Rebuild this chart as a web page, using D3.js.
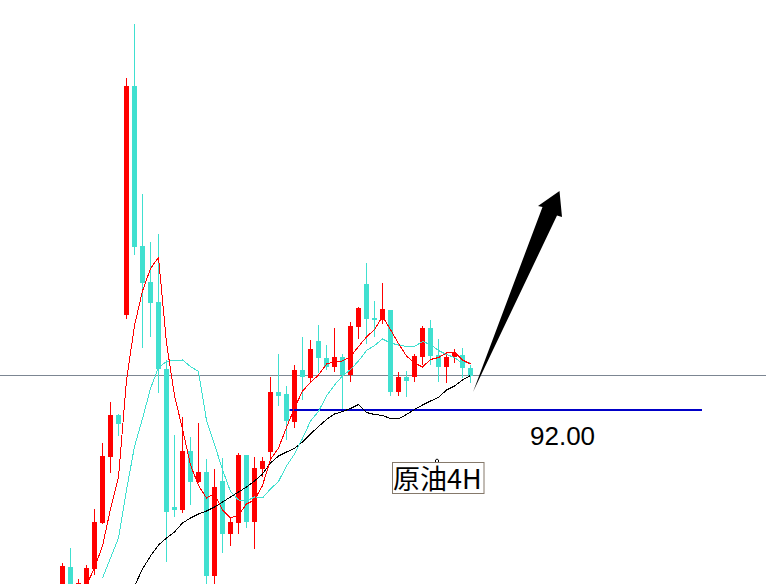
<!DOCTYPE html>
<html>
<head>
    <meta charset="utf-8">
    <title>原油4H</title>
    <style>
        body { margin: 0; background: #fff; }
        svg { display: block; }
    </style>
</head>
<body>

<main></main>

<script src="https://cdn.jsdelivr.net/npm/d3@7/dist/d3.min.js"></script>
<script>

    // K线数据（价格，从图上估读）
    var openP = [88.38, 88.84, 88.42, 88.18, 88.80, 89.72, 91.04, 91.88, 93.88, 98.46,
        95.26, 94.54, 94.14, 92.80, 90.04, 89.98, 91.16, 90.54, 90.74, 88.66,
        90.56, 89.50, 89.72, 91.08, 89.74, 90.80, 91.14, 92.34, 92.30, 91.74,
        92.78, 92.62, 93.36, 93.02, 92.84, 93.04, 92.68, 93.64, 94.50, 93.82,
        93.78, 93.98, 92.34, 92.64, 92.64, 93.04, 93.62, 93.08, 92.84, 93.04,
        93.08, 92.82];
    var highP = [88.92, 89.22, 88.60, 88.88, 90.00, 91.32, 92.14, 91.90, 98.62, 99.70,
        96.30, 95.34, 95.50, 92.98, 91.48, 91.84, 91.44, 91.72, 91.00, 90.80,
        91.02, 89.84, 91.12, 91.08, 91.04, 91.04, 92.64, 93.10, 92.46, 92.88,
        93.44, 93.38, 93.68, 93.28, 93.62, 93.10, 93.74, 94.04, 94.92, 94.16,
        94.52, 93.98, 92.74, 92.76, 93.10, 93.66, 93.78, 93.40, 93.12, 93.20,
        93.22, 92.88];
    var lowP = [88.28, 88.08, 88.34, 88.06, 88.68, 89.70, 90.72, 91.46, 93.80, 95.08,
        93.22, 93.44, 92.32, 88.94, 89.84, 89.92, 90.08, 90.52, 88.46, 88.46,
        89.12, 89.26, 89.50, 89.62, 89.20, 90.64, 91.00, 92.06, 91.38, 91.62,
        92.18, 92.52, 92.72, 92.78, 92.74, 91.94, 92.54, 93.40, 93.30, 93.44,
        93.70, 92.26, 92.26, 92.24, 92.54, 92.88, 92.88, 92.54, 92.52, 92.92,
        92.62, 92.52];
    var closeP = [88.86, 88.18, 88.52, 88.82, 89.74, 91.06, 91.88, 91.70, 98.46, 95.24,
        94.52, 94.12, 92.80, 89.94, 89.98, 91.16, 90.54, 90.74, 88.66, 90.44,
        89.50, 89.74, 91.08, 89.74, 90.82, 90.96, 92.34, 92.26, 91.76, 92.78,
        92.64, 93.20, 93.02, 92.84, 93.04, 92.68, 93.66, 94.02, 93.80, 93.78,
        94.00, 92.34, 92.64, 92.56, 93.06, 93.62, 93.06, 92.84, 93.04, 93.12,
        92.82, 92.66];

    // 均线（红 MA5，青 MA10，黑 MA30），null 表示在图外
    var ma5 = [null, null, null, 88.48, 88.82, 89.26, 90.00, 90.64, 92.57, 93.67,
        94.36, 94.81, 95.03, 93.32, 92.27, 91.60, 90.88, 90.47, 90.22, 90.31,
        89.98, 89.82, 89.88, 90.10, 90.18, 90.47, 90.99, 91.22, 91.63, 92.02,
        92.36, 92.53, 92.68, 92.90, 92.95, 92.96, 93.05, 93.25, 93.44, 93.59,
        93.85, 93.59, 93.31, 93.06, 92.92, 92.84, 92.99, 93.03, 93.12, 93.14,
        92.98, 92.90];
    var ma10 = [null, null, null, null, null, 88.62, 89.02, 89.42, 90.38, 91.25,
        91.81, 92.41, 92.83, 92.95, 92.97, 92.98, 92.85, 92.75, 91.77, 91.29,
        90.79, 90.35, 90.18, 90.16, 90.24, 90.22, 90.40, 90.55, 90.86, 91.10,
        91.41, 91.76, 91.95, 92.26, 92.48, 92.66, 92.79, 92.96, 93.17, 93.27,
        93.40, 93.32, 93.28, 93.25, 93.25, 93.35, 93.29, 93.17, 93.09, 93.03,
        92.91, 92.94];
    var ma30 = [null, null, null, null, null, null, null, null, null, 88.46,
        88.80, 89.06, 89.28, 89.42, 89.54, 89.72, 89.82, 89.90, 89.96, 90.04,
        90.14, 90.24, 90.34, 90.44, 90.56, 90.70, 90.92, 91.06, 91.14, 91.21,
        91.34, 91.50, 91.65, 91.79, 91.90, 91.95, 92.01, 92.09, 91.93, 91.89,
        91.87, 91.81, 91.80, 91.89, 91.99, 92.08, 92.16, 92.23, 92.38, 92.46,
        92.58, 92.67];

    var bidPrice = 92.68;     // 灰色现价线
    var supportPrice = 92.00; // 蓝色支撑线
    var supportFrom = 28;     // 支撑线起点(K线序号)
    var supportLabel = "92.00";
    var titleLabel = "原油4H";

    var width = 766;
    var height = 584;

    var svg = d3.select("main")
        .append("svg")
        .attr("width", width)
        .attr("height", height);

    var n = closeP.length;

    // 每根K线 8px
    var x = d3.scaleLinear()
        .domain([0, n - 1])
        .range([62.5, 62.5 + 8 * (n - 1)]);

    var y = d3.scaleLinear()
        .domain([88.5, 100.18])
        .range([height, 0]);

    var up = "#ff0000";
    var down = "#40e0d0";

    // 现价线
    svg.append("line")
        .attr("x1", 0).attr("x2", width)
        .attr("y1", Math.round(y(bidPrice)) + 0.5)
        .attr("y2", Math.round(y(bidPrice)) + 0.5)
        .attr("stroke", "#7c8692")
        .attr("stroke-width", 1);

    var idx = d3.range(n);

    // 影线
    svg.selectAll("line.wick")
        .data(idx)
        .enter()
        .append("line")
        .attr("class", "wick")
        .attr("x1", function (i) { return x(i); })
        .attr("x2", function (i) { return x(i); })
        .attr("y1", function (i) { return y(highP[i]); })
        .attr("y2", function (i) { return y(lowP[i]); })
        .attr("stroke", function (i) { return closeP[i] > openP[i] ? up : down; })
        .attr("stroke-width", 1);

    // 实体
    svg.selectAll("rect.body")
        .data(idx)
        .enter()
        .append("rect")
        .attr("class", "body")
        .attr("x", function (i) { return x(i) - 2.5; })
        .attr("width", 5)
        .attr("y", function (i) { return Math.round(y(Math.max(openP[i], closeP[i]))); })
        .attr("height", function (i) {
            return Math.max(1, Math.round(Math.abs(y(openP[i]) - y(closeP[i]))));
        })
        .attr("fill", function (i) { return closeP[i] > openP[i] ? up : down; });

    // 支撑线（画在K线上面）
    svg.append("line")
        .attr("x1", x(supportFrom) + 3).attr("x2", 702)
        .attr("y1", y(supportPrice) + 1)
        .attr("y2", y(supportPrice) + 1)
        .attr("stroke", "#0000c8")
        .attr("stroke-width", 2);

    // 均线
    function maLine(values, color) {
        var line = d3.line()
            .defined(function (i) { return values[i] != null; })
            .x(function (i) { return x(i); })
            .y(function (i) { return y(values[i]); });
        svg.append("path")
            .datum(idx)
            .attr("d", line)
            .attr("fill", "none")
            .attr("stroke", color)
            .attr("stroke-width", 1)
            .attr("shape-rendering", "crispEdges");
    }
    maLine(ma30, "#000000");
    maLine(ma10, down);
    maLine(ma5, up);

    // 箭头
    svg.append("path")
        .attr("d", "M473,392 L542.5,207 L538,206 L559.5,191 L562,217 L557,215.5 Z")
        .attr("fill", "#000");

    // 支撑价位文字
    svg.append("text")
        .attr("x", 530)
        .attr("y", 445)
        .attr("font-family", "Liberation Sans, Arial, sans-serif")
        .attr("font-size", "26px")
        .attr("fill", "#000")
        .text(supportLabel);

    // 标题框
    svg.append("rect")
        .attr("x", 392.5).attr("y", 462.5)
        .attr("width", 91.5).attr("height", 31)
        .attr("fill", "#fff")
        .attr("stroke", "#85796b");
    svg.append("path")
        .attr("d", "M435.5,462 L435.5,460 L437,459 L438.5,460 L438.5,462")
        .attr("fill", "none")
        .attr("stroke", "#000");
    svg.append("text")
        .attr("x", 393)
        .attr("y", 489)
        .attr("font-family", "Noto Sans CJK SC, sans-serif")
        .attr("font-size", "27px")
        .attr("fill", "#000")
        .text(titleLabel);
</script>
</body>
</html>
